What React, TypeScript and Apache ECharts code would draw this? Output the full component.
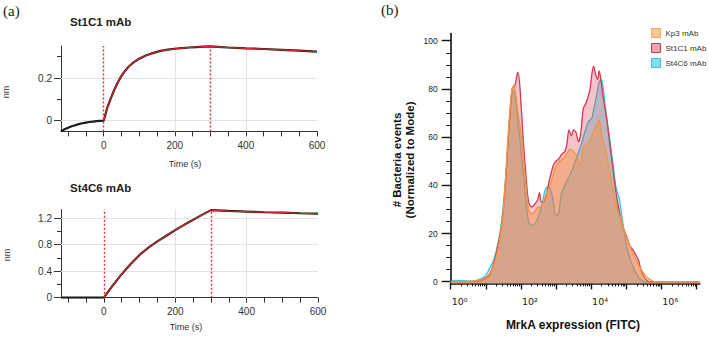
import React, { useEffect, useRef } from 'react';
import * as echarts from 'echarts';

// ---- (a) binding kinetics: response (nm) vs time (s) ----
const st1c1Time = [-120, -110, -100, -90, -80, -70, -60, -50, -40, -30, -20, -10, 0, 10, 20, 30, 40, 50, 60, 70, 80, 90, 100, 120, 140, 160, 180, 200, 220, 240, 260, 280, 300, 320, 350, 400, 450, 500, 550, 600];
const st1c1Response = [-0.05, -0.04, -0.033, -0.026, -0.021, -0.016, -0.012, -0.009, -0.006, -0.004, -0.002, -0.001, 0, 0.06, 0.105, 0.145, 0.18, 0.21, 0.233, 0.253, 0.268, 0.28, 0.29, 0.307, 0.318, 0.327, 0.333, 0.337, 0.34, 0.343, 0.345, 0.347, 0.348, 0.346, 0.343, 0.339, 0.336, 0.332, 0.328, 0.324];

const st4c6Time = [-120, -60, 0, 25, 50, 75, 100, 125, 150, 175, 200, 225, 250, 275, 300, 350, 400, 450, 500, 550, 600];
const st4c6Response = [0, 0, 0, 0.185, 0.355, 0.51, 0.645, 0.755, 0.85, 0.935, 1.02, 1.1, 1.175, 1.25, 1.322, 1.31, 1.3, 1.29, 1.285, 1.275, 1.268];

const timeTicks = [-100, -50, 0, 50, 100, 150, 200, 250, 300, 350, 400, 450, 500, 550, 600];
const timeLabels = [0, 200, 400, 600];
const timeGrid = [200, 400];
const phaseMarks = [0, 300];

const st1c1Major = [0, 0.2];
const st1c1Minor = [0.1, 0.3];
const st4c6Major = [0, 0.4, 0.8, 1.2];
const st4c6Minor = [0.2, 0.6, 1.0];

// ---- (b) flow cytometry histograms: log10(FITC) vs % of mode ----
const kp3Log = [0, 0.6, 0.85, 1.0, 1.12, 1.27, 1.4, 1.5, 1.6, 1.68, 1.74, 1.8, 1.86, 1.92, 2.0, 2.07, 2.14, 2.22, 2.31, 2.41, 2.5, 2.58, 2.66, 2.74, 2.83, 2.93, 3.0, 3.1, 3.2, 3.3, 3.4, 3.5, 3.6, 3.66, 3.72, 3.78, 3.88, 3.96, 4.06, 4.16, 4.23, 4.3, 4.44, 4.55, 4.65, 4.75, 4.85, 4.95, 5.05, 5.15, 5.25, 5.35, 5.45, 5.55, 5.65, 5.75, 5.85, 7.1];
const kp3Count = [0, 0.2, 0.8, 1.8, 3.5, 9, 18, 30, 52, 70, 79, 81.5, 77, 70, 62, 52, 40, 30, 28, 29.5, 31, 31, 34, 37, 40, 45, 48, 50, 51, 53, 55, 54, 52, 48, 50, 56, 57, 58, 62, 65, 67, 61, 52.6, 44, 36, 30, 26, 21, 17, 13, 10, 7, 4.5, 2.5, 1.2, 0.3, 0, 0];

const st1c1Log = [0, 0.6, 0.85, 1.0, 1.12, 1.27, 1.4, 1.46, 1.55, 1.62, 1.7, 1.75, 1.8, 1.84, 1.91, 1.96, 2.02, 2.08, 2.14, 2.22, 2.31, 2.41, 2.48, 2.53, 2.58, 2.64, 2.72, 2.81, 2.93, 3.0, 3.08, 3.17, 3.25, 3.31, 3.37, 3.44, 3.5, 3.57, 3.64, 3.7, 3.78, 3.85, 3.92, 3.97, 4.02, 4.07, 4.13, 4.19, 4.23, 4.28, 4.33, 4.45, 4.59, 4.73, 4.82, 4.9, 5.01, 5.1, 5.2, 5.28, 5.35, 5.42, 5.49, 5.57, 5.65, 7.1];
const st1c1Count = [0, 0, 0.5, 1.5, 3, 10, 19, 24, 38, 55, 72, 80, 81, 82, 87, 83, 70, 56, 45, 33, 31, 32.5, 34, 37, 33, 33, 36, 42, 48.5, 50, 51, 53, 54, 57, 63, 60.5, 63, 62, 58, 61, 72, 74, 77, 80, 86, 89.5, 86, 84, 87.5, 84, 78, 67, 50.5, 35, 28, 23, 19, 15, 13, 11, 9, 5, 2.5, 0.8, 0, 0];

const st4c6Log = [0, 0.1, 0.6, 0.9, 1.02, 1.12, 1.21, 1.3, 1.4, 1.5, 1.6, 1.68, 1.75, 1.8, 1.86, 1.92, 2.0, 2.07, 2.14, 2.22, 2.3, 2.4, 2.5, 2.6, 2.7, 2.8, 2.9, 3.0, 3.07, 3.15, 3.25, 3.35, 3.45, 3.55, 3.65, 3.73, 3.82, 3.92, 4.02, 4.06, 4.16, 4.23, 4.3, 4.4, 4.54, 4.63, 4.7, 4.75, 4.8, 4.87, 4.95, 5.01, 5.1, 5.2, 5.3, 5.4, 5.5, 7.1];
const st4c6Count = [0, 0.5, 0.3, 1.5, 3, 6, 8.5, 13, 20, 32, 50, 68, 78, 79, 74, 66, 55, 45, 34, 25, 23.5, 24, 27, 32, 38.5, 39.5, 35, 27.5, 28, 36, 40, 43, 46, 50, 54, 57.4, 62, 66.4, 67.8, 70.5, 77.5, 83, 83.7, 73, 58, 48.4, 40, 37, 35, 27.8, 20, 15, 10, 6, 3, 1, 0, 0];

const decadeTicks = [0, 1, 2, 3, 4, 5, 6, 7];
const decadeLabels = [0, 2, 4, 6];
const superscripts = ['⁰', '¹', '²', '³', '⁴', '⁵', '⁶', '⁷'];
const countMajor = [0, 20, 40, 60, 80, 100];
const countMinor = [5, 10, 15, 25, 30, 35, 45, 50, 55, 65, 70, 75, 85, 90, 95];

const SANS = '"Liberation Sans", Arial, Helvetica, sans-serif';
const SERIF = '"Liberation Serif", "Times New Roman", serif';

const zip = (xs: number[], ys: number[]) => xs.map((x, i) => [x, ys[i]]);

// log minor tick positions between decades (2x..9x of each power of ten)
const decadeMinor: number[] = [];
for (let d = 0; d < 7; d++) {
  for (let k = 2; k <= 9; k++) decadeMinor.push(d + Math.log10(k));
}

export default function App() {
  const ref = useRef<HTMLDivElement>(null);

  useEffect(() => {
    if (!ref.current) return;
    const chart = echarts.init(ref.current, undefined, { renderer: 'svg' });

    const axisTextLeft = { fontFamily: SANS, fontSize: 10, color: '#333' };

    const timeAxis = (gridIndex: number) => ({
      type: 'value',
      gridIndex,
      position: 'bottom',
      min: -120,
      max: 600,
      axisLine: { show: true, onZero: false, lineStyle: { color: '#333', width: 1 } },
      axisTick: { show: true, customValues: timeTicks, length: 5, lineStyle: { color: '#333' } },
      axisLabel: { ...axisTextLeft, customValues: timeLabels, margin: 9, interval: 0 },
      splitLine: { show: false },
    });

    const nmAxis = (gridIndex: number, min: number, max: number, ticks: number[], len: number, labels: boolean) => ({
      type: 'value',
      gridIndex,
      position: 'left',
      offset: 0,
      min,
      max,
      axisLine: { show: labels, onZero: false, lineStyle: { color: '#333', width: 1 } },
      axisTick: { show: true, customValues: ticks, length: len, lineStyle: { color: '#333' } },
      axisLabel: labels ? { ...axisTextLeft, customValues: ticks, margin: 9, interval: 0 } : { show: false },
      splitLine: { show: false },
    });

    const gridLines = (ys: number[]) => ({
      silent: true,
      symbol: 'none',
      z: 1,
      label: { show: false },
      lineStyle: { color: '#e3e3e3', type: 'solid', width: 1 },
      data: [...ys.map((v) => ({ yAxis: v })), ...timeGrid.map((v) => ({ xAxis: v }))],
    });

    const dottedMarks = {
      silent: true,
      symbol: 'none',
      z: 4,
      label: { show: false },
      lineStyle: { color: '#e0302a', type: [2, 2], width: 1.4 },
      data: phaseMarks.map((v) => ({ xAxis: v })),
    };

    const kineticSeries = (xi: number, yi: number, t: number[], r: number[], ys: number[]) => [
      {
        type: 'line',
        xAxisIndex: xi,
        yAxisIndex: yi,
        data: zip(t, r),
        showSymbol: false,
        lineStyle: { color: '#1b1b1b', width: 2.2 },
        z: 2,
        markLine: gridLines(ys),
      },
      {
        type: 'line',
        xAxisIndex: xi,
        yAxisIndex: yi,
        data: zip(t, r).filter((p) => p[0] >= 0),
        showSymbol: false,
        lineStyle: { color: '#e3262b', width: 1.1 },
        z: 3,
        markLine: dottedMarks,
      },
    ];

    const histSeries = (name: string, xs: number[], ys: number[], line: string, fill: string, z: number) => ({
      name,
      type: 'line',
      xAxisIndex: 2,
      yAxisIndex: 4,
      data: zip(xs, ys),
      showSymbol: false,
      smooth: 0.3,
      z,
      lineStyle: { color: line, width: 1.3 },
      itemStyle: { color: line },
      areaStyle: { color: fill, origin: 'start' },
    });

    const option = {
      animation: false,
      backgroundColor: '#ffffff',
      grid: [
        { left: 61, top: 46, width: 256, height: 85.4, outerBoundsMode: 'none' },
        { left: 61, top: 209.6, width: 257, height: 88.1, outerBoundsMode: 'none' },
        { left: 450.7, top: 33.5, width: 249.2, height: 249.9, outerBoundsMode: 'none' },
      ],
      xAxis: [
        timeAxis(0),
        timeAxis(1),
        {
          // decade ticks, labelled as powers of ten
          type: 'value',
          gridIndex: 2,
          position: 'bottom',
          min: 0,
          max: 7.1,
          axisLine: { show: true, onZero: false, lineStyle: { color: '#111', width: 1.6 } },
          axisTick: { show: true, customValues: decadeTicks, length: 6, lineStyle: { color: '#111', width: 1.4 } },
          axisLabel: {
            customValues: decadeLabels,
            interval: 0,
            hideOverlap: false,
            align: 'left',
            margin: 13,
            formatter: (v: number) => '10' + superscripts[Math.round(v)],
            fontFamily: '"DejaVu Sans", sans-serif',
            fontSize: 9.5,
            color: '#222',
            padding: [0, 0, 0, 1],
          },
          splitLine: { show: false },
        },
        {
          // minor log ticks
          type: 'value',
          gridIndex: 2,
          position: 'bottom',
          offset: 0,
          min: 0,
          max: 7.1,
          axisLine: { show: false, onZero: false },
          axisTick: { show: true, customValues: decadeMinor, length: 3, lineStyle: { color: '#111', width: 1 } },
          axisLabel: { show: false },
          splitLine: { show: false },
        },
      ],
      yAxis: [
        nmAxis(0, -0.05, 0.35, st1c1Major, 7, true),
        nmAxis(0, -0.05, 0.35, st1c1Minor, 4, false),
        nmAxis(1, 0, 1.33, st4c6Major, 7, true),
        nmAxis(1, 0, 1.33, st4c6Minor, 4, false),
        {
          type: 'value',
          gridIndex: 2,
          position: 'left',
          min: -0.7,
          max: 103,
          axisLine: { show: true, onZero: false, lineStyle: { color: '#111', width: 1.6 } },
          axisTick: { show: true, customValues: countMajor, length: 9, lineStyle: { color: '#111', width: 1.4 } },
          axisLabel: { customValues: countMajor, interval: 0, margin: 13, fontFamily: SANS, fontSize: 8.5, color: '#222' },
          splitLine: { show: false },
        },
        {
          type: 'value',
          gridIndex: 2,
          position: 'left',
          offset: 0,
          min: -0.7,
          max: 103,
          axisLine: { show: false, onZero: false },
          axisTick: { show: true, customValues: countMinor, length: 4.5, lineStyle: { color: '#111', width: 1 } },
          axisLabel: { show: false },
          splitLine: { show: false },
        },
      ],
      legend: {
        orient: 'vertical',
        left: 651,
        top: 28,
        padding: 0,
        itemWidth: 9,
        itemHeight: 9,
        itemGap: 5,
        icon: 'rect',
        textStyle: { fontFamily: SANS, fontSize: 8, color: '#333', overflow: 'none' },
        data: [
          { name: 'Kp3 mAb', itemStyle: { color: '#f9c693', borderColor: '#f0a868', borderWidth: 1 } },
          { name: 'St1C1 mAb', itemStyle: { color: '#f2a2ac', borderColor: '#d23c52', borderWidth: 1 } },
          { name: 'St4C6 mAb', itemStyle: { color: '#7fdff0', borderColor: '#3fc4de', borderWidth: 1 } },
        ],
      },
      series: [
        ...kineticSeries(0, 0, st1c1Time, st1c1Response, st1c1Major),
        ...kineticSeries(1, 2, st4c6Time, st4c6Response, st4c6Major.slice(1)),
        histSeries('St4C6 mAb', st4c6Log, st4c6Count, '#3cc6dc', 'rgba(40,200,225,0.52)', 2),
        histSeries('St1C1 mAb', st1c1Log, st1c1Count, '#d03a4e', 'rgba(220,50,70,0.42)', 3),
        histSeries('Kp3 mAb', kp3Log, kp3Count, '#f39444', 'rgba(245,140,60,0.6)', 4),
      ],
      graphic: [
        { type: 'text', left: 3, top: 3, style: { text: '(a)', fontFamily: SERIF, fontSize: 15, fill: '#222' } },
        { type: 'text', left: 381, top: 2, style: { text: '(b)', fontFamily: SERIF, fontSize: 15, fill: '#222' } },
        { type: 'text', left: 70, top: 16, style: { text: 'St1C1 mAb', fontFamily: SANS, fontSize: 11.5, fontWeight: 'bold', fill: '#222' } },
        { type: 'text', left: 70, top: 182, style: { text: 'St4C6 mAb', fontFamily: SANS, fontSize: 11.5, fontWeight: 'bold', fill: '#222' } },
        { type: 'text', x: 6, y: 92, rotation: Math.PI / 2, style: { text: 'nm', fontFamily: SANS, fontSize: 9, fill: '#444', align: 'center', verticalAlign: 'middle' } },
        { type: 'text', x: 7, y: 255, rotation: Math.PI / 2, style: { text: 'nm', fontFamily: SANS, fontSize: 9, fill: '#444', align: 'center', verticalAlign: 'middle' } },
        { type: 'text', x: 185, y: 164, style: { text: 'Time (s)', fontFamily: SANS, fontSize: 9, fill: '#333', align: 'center', verticalAlign: 'middle' } },
        { type: 'text', x: 186, y: 327, style: { text: 'Time (s)', fontFamily: SANS, fontSize: 9, fill: '#333', align: 'center', verticalAlign: 'middle' } },
        { type: 'text', x: 573, y: 325, style: { text: 'MrkA expression (FITC)', fontFamily: SANS, fontSize: 12, fontWeight: 'bold', fill: '#111', align: 'center', verticalAlign: 'middle' } },
        {
          type: 'text',
          x: 403.5,
          y: 160,
          rotation: Math.PI / 2,
          style: {
            text: '# Bacteria events\n(Normalized to Mode)',
            fontFamily: SANS,
            fontSize: 11.5,
            fontWeight: 'bold',
            lineHeight: 13,
            fill: '#111',
            align: 'center',
            verticalAlign: 'middle',
          },
        },
      ],
    };

    chart.setOption(option as any);
    return () => chart.dispose();
  }, []);

  return (
    <div
      ref={ref}
      style={{ position: 'fixed', left: 0, top: 0, width: 709, height: 337, background: '#fff' }}
    />
  );
}
